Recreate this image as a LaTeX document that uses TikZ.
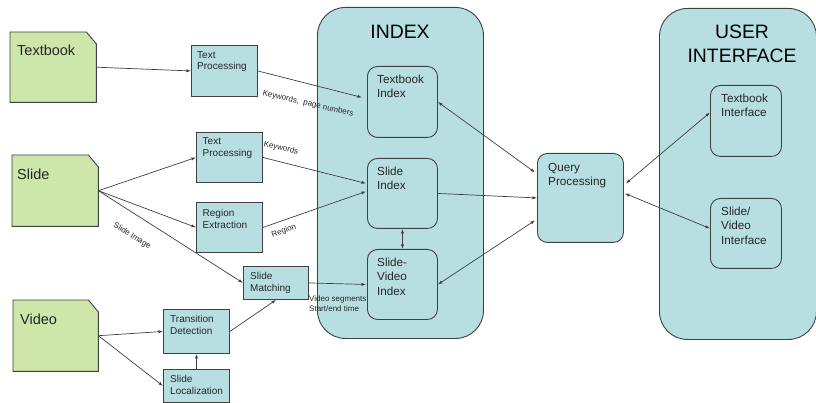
\documentclass[tikz,border=0pt]{standalone}
\usepackage{fontspec}
\setmainfont{Liberation Sans}
\usetikzlibrary{arrows.meta,calc}
\definecolor{docgreen}{HTML}{CDE6A9}
\definecolor{procblue}{HTML}{B7DFE2}
\definecolor{edgegray}{HTML}{404040}
\definecolor{inkgray}{HTML}{262626}

\tikzset{
  docnode/.style={anchor=north west, inner sep=0pt, draw=none},
  docshape/.style={fill=docgreen, draw=edgegray, line width=0.9pt},
  proc/.style={anchor=north west, inner sep=0pt, fill=procblue, draw=edgegray, line width=0.9pt},
  idxbox/.style={proc, rounded corners=10pt},
  panel/.style={proc, rounded corners=28pt},
  doclabel/.style={anchor=north west, inner sep=0pt, text=inkgray, font=\fontsize{14.5}{17}\selectfont},
  smalltext/.style={anchor=north west, inner sep=0pt, align=left, text=inkgray, font=\fontsize{10}{11.7}\selectfont},
  idxtext/.style={anchor=north west, inner sep=0pt, align=left, text=inkgray, font=\fontsize{11.7}{14.3}\selectfont},
  paneltitle/.style={anchor=north, inner sep=0pt, align=center, text=black, font=\fontsize{19.4}{23.3}\selectfont},
  edgenote/.style={inner sep=0pt, text=inkgray, font=\fontsize{8}{10}\selectfont},
  conn/.style={draw=edgegray, line width=0.7pt},
}

\begin{document}
\begin{tikzpicture}[x=1pt, y=-1pt, >={Latex[length=4.5pt,width=3.2pt]}]
\useasboundingbox (0,0) rectangle (816,403);
\fill[white] (0,0) rectangle (816,403);

% ---- panels ----
\node[panel, minimum width=166pt, minimum height=331pt] (index) at (317,7) {};
\node[paneltitle] (indextitle) at (400,25) {INDEX};
\node[panel, minimum width=157pt, minimum height=331pt] (ui) at (659,8) {};
\node[paneltitle] (uititle) at (742,25) {USER\\INTERFACE};

% ---- source documents (folded corner) ----
\node[docnode, minimum width=86pt, minimum height=70pt] (textbook) at (10,32) {};
\node[docnode, minimum width=86pt, minimum height=71pt] (slide) at (12,155) {};
\node[docnode, minimum width=85pt, minimum height=71pt] (video) at (13,300) {};
\foreach \d in {textbook,slide,video}{
  \filldraw[docshape] (\d.north west) -- ($(\d.north east)+(-10,0)$)
    -- ($(\d.north east)+(0,12)$) -- (\d.south east) -- (\d.south west) -- cycle;
}
\node[doclabel] (textbooklbl) at ([shift={(7,13)}]textbook.north west) {Textbook};
\node[doclabel] (slidelbl) at ([shift={(5,14)}]slide.north west) {Slide};
\node[doclabel] (videolbl) at ([shift={(7,14)}]video.north west) {Video};

% ---- processing steps ----
\node[proc, minimum width=66pt, minimum height=51pt] (tp1) at (191,45) {};
\node[smalltext] (tp1t) at ([shift={(6,6)}]tp1.north west) {Text\\Processing};
\node[proc, minimum width=66pt, minimum height=50pt] (tp2) at (196,132) {};
\node[smalltext] (tp2t) at ([shift={(6.5,5.5)}]tp2.north west) {Text\\Processing};
\node[proc, minimum width=66pt, minimum height=50pt] (regex) at (196,202) {};
\node[smalltext] (regext) at ([shift={(6.5,7)}]regex.north west) {Region\\Extraction};
\node[proc, minimum width=65pt, minimum height=33pt] (smatch) at (243,266) {};
\node[smalltext] (smatcht) at ([shift={(7,6)}]smatch.north west) {Slide\\Matching};
\node[proc, minimum width=66pt, minimum height=44pt] (trans) at (163,309) {};
\node[smalltext] (transt) at ([shift={(7,6)}]trans.north west) {Transition\\Detection};
\node[proc, minimum width=66pt, minimum height=33pt] (sloc) at (163,369) {};
\node[smalltext] (sloct) at ([shift={(7,6.5)}]sloc.north west) {Slide\\Localization};

% ---- index entries ----
\node[idxbox, minimum width=70pt, minimum height=71pt] (tbidx) at (367,66) {};
\node[idxtext] (tbidxt) at ([shift={(10,9)}]tbidx.north west) {Textbook\\Index};
\node[idxbox, minimum width=70pt, minimum height=70pt] (slidx) at (367,158) {};
\node[idxtext] (slidxt) at ([shift={(10,9)}]slidx.north west) {Slide\\Index};
\node[idxbox, minimum width=70pt, minimum height=70pt] (svidx) at (367,249) {};
\node[idxtext] (svidxt) at ([shift={(10,9)}]svidx.north west) {Slide-\\Video\\Index};

% ---- query and interfaces ----
\node[idxbox, minimum width=86pt, minimum height=89pt] (query) at (537,153) {};
\node[idxtext] (queryt) at ([shift={(11,10)}]query.north west) {Query\\Processing};
\node[idxbox, minimum width=71pt, minimum height=71pt] (tbint) at (710,85) {};
\node[idxtext] (tbintt) at ([shift={(11,9)}]tbint.north west) {Textbook\\Interface};
\node[idxbox, minimum width=71pt, minimum height=70pt] (svint) at (710,198) {};
\node[idxtext] (svintt) at ([shift={(11,9)}]svint.north west) {Slide/\\Video\\Interface};

% ---- connectors ----
\draw[conn,->] (textbook.east) -- (tp1.west);
\draw[conn,->] (tp1.east) -- ([xshift=-5pt,yshift=4.5pt]tbidx.west);
\draw[conn,->] (slide.east) -- (tp2.west);
\draw[conn,->] (slide.east) -- (regex.west);
\draw[conn,->] (slide.east) -- (smatch.west);
\draw[conn,->] (tp2.east) -- ([xshift=-1pt,yshift=10pt]slidx.west);
\draw[conn,->] (regex.east) -- ([xshift=-1pt,yshift=2pt]slidx.west);
\draw[conn,->] (smatch.east) -- ([xshift=-1pt]svidx.west);
\draw[conn,->] (video.east) -- (trans.west);
\draw[conn,->] (video.east) -- (sloc.west);
\draw[conn,->] (sloc.north) -- (trans.south);
\draw[conn,->] (trans.east) -- (smatch.south);
\draw[conn,<->] (slidx.south) -- (svidx.north);
\draw[conn,<->] (tbidx.east) -- ([xshift=-2pt,yshift=25.5pt]query.west);
\draw[conn,->] (slidx.east) -- (query.west);
\draw[conn,<->] (svidx.east) -- ([xshift=-2pt,yshift=-22.5pt]query.west);
\draw[conn,<->] ([xshift=2pt,yshift=14.5pt]query.east) -- ([yshift=8.5pt]tbint.west);
\draw[conn,<->] ([xshift=1pt,yshift=4.5pt]query.east) -- ([yshift=5pt]svint.west);

% ---- connector notes ----
\node[edgenote, rotate=-13] (kwpage) at (308,104) {Keywords,~ page numbers};
\node[edgenote, rotate=-13] (kw) at (281,148) {Keywords};
\node[edgenote, rotate=19] (regionlbl) at (284,231) {Region};
\node[edgenote, rotate=-32] (slideimg) at (132,236) {Slide Image};
\node[edgenote, anchor=north west, align=left] (vseg) at (309,296) {Video segments\\Start/end time};
\end{tikzpicture}
\end{document}
